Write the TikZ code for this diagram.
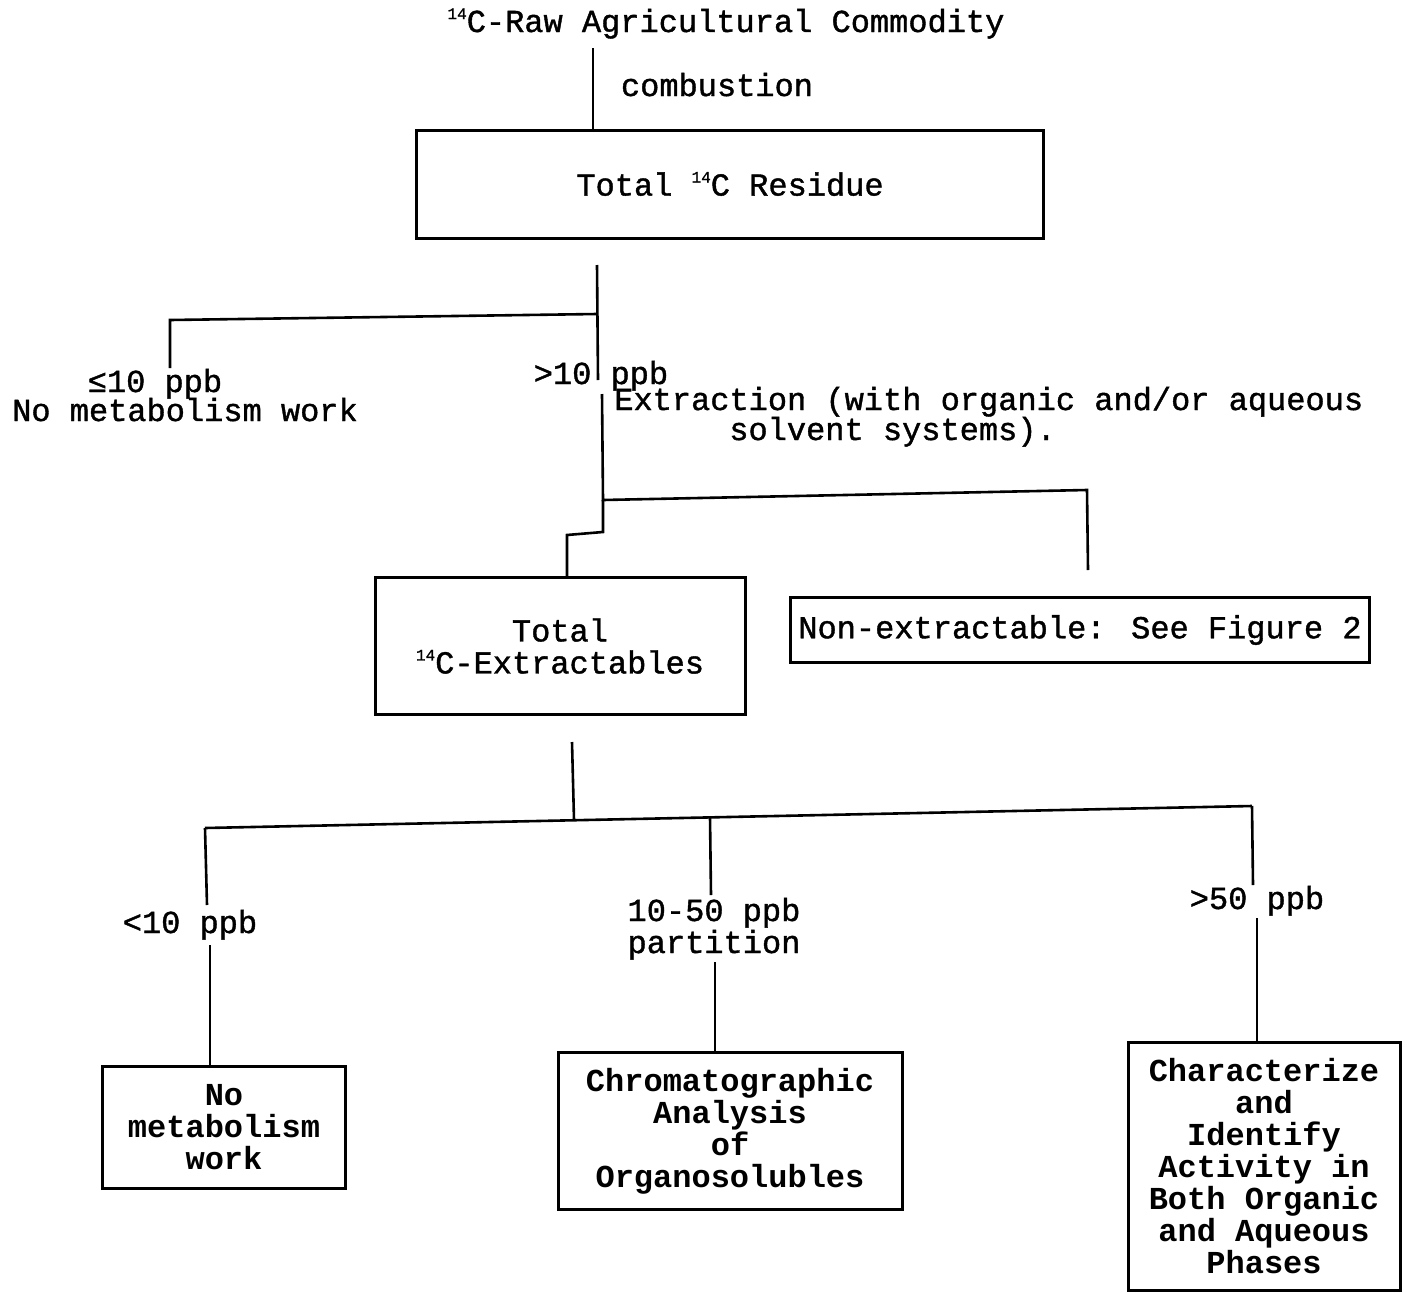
\documentclass[tikz,border=0pt]{standalone}
\usepackage{fontspec}
\setmainfont{Liberation Mono}
\newfontfamily\medmono[FakeBold=1.2]{Liberation Mono}
\newcommand\isotope{\raisebox{13pt}{\fontsize{16}{16}\selectfont 14}}
\begin{document}
\begin{tikzpicture}[x=1pt,y=-1pt,line width=2.6pt,
  txt/.style={font=\medmono\fontsize{32}{32}\selectfont,inner sep=0pt,anchor=base},
  boxnode/.style={draw,line width=3pt,align=center,font=\medmono\fontsize{32}{32}\selectfont},
  boldbox/.style={boxnode,font=\bfseries\fontsize{32}{32}\selectfont}]
\useasboundingbox (0,0) rectangle (1411,1293);
\fill[white] (0,0) rectangle (1411,1293);

% texts
\node[txt] (rac) at (726,32) {\isotope C-Raw Agricultural Commodity};
\node[txt] (comb) at (717,96) {combustion};
\node[txt] (le10) at (155,392) {≤10 ppb};
\node[txt] (nomw) at (185,421) {No metabolism work};
\node[txt] (gt10) at (601,384) {>10 ppb};
\node[txt,anchor=base west] (extr1) at (613,410) {Extraction (with organic and/or aqueous};
\node[txt,anchor=base west] (extr2) at (728,440) {solvent systems).};
\node[txt] (lt10) at (190,933) {<10 ppb};
\node[txt] (mid1) at (714,921) {10-50 ppb};
\node[txt] (mid2) at (714,953) {partition};
\node[txt] (gt50) at (1257,909) {>50 ppb};

% boxes
\node[boxnode,minimum width=627pt,minimum height=108pt] (res) at (730,184) {Total \isotope C Residue};
\node[boxnode,minimum width=370pt,minimum height=137pt] (ext) at (560,646) {Total\\\isotope C-Extractables};
\node[boxnode,minimum width=579pt,minimum height=65pt] (nonx) at (1080,630) {Non-extractable: See Figure 2};
\node[boldbox,minimum width=243pt,minimum height=122pt] (nm) at (224,1127) {No\\metabolism\\work};
\node[boldbox,minimum width=344pt,minimum height=157pt] (chr) at (730,1131) {Chromatographic\\Analysis\\of\\Organosolubles};
\node[boldbox,minimum width=272pt,minimum height=248pt] (chid) at (1264,1166) {Characterize\\and\\Identify\\Activity in\\Both Organic\\and Aqueous\\Phases};

% connectors
\coordinate (a1) at (593,48);
\draw (a1) -- (a1 |- res.north);

\coordinate (b0) at (597,265);
\coordinate (b1) at (597,314);
\coordinate (bl) at (170,320);
\coordinate (bl2) at (170,368);
\coordinate (b2) at (598,380);
\draw (bl2) -- (bl) -- (b1);
\draw (b0) -- (b2);

\coordinate (c0) at (602,394);
\coordinate (c1) at (603,500);
\coordinate (cr) at (1087,490);
\coordinate (cr2) at (1088,570);
\coordinate (cs1) at (603,532);
\coordinate (cs2) at (567,535);
\draw (c0) -- (c1) -- (cr) -- (cr2);
\draw (c1) -- (cs1) -- (cs2) -- (cs2 |- ext.north);

\coordinate (d0) at (572,742);
\coordinate (d1) at (574,820);
\coordinate (dl) at (205,828);
\coordinate (dm) at (710,817);
\coordinate (dr) at (1252,806);
\draw (d0) -- (d1);
\draw (dl) -- (dr);

\coordinate (el) at (207,905);
\coordinate (el2) at (210,945);
\draw (dl) -- (el);
\draw (el2) -- (el2 |- nm.north);

\coordinate (em) at (711,895);
\coordinate (em2) at (715,962);
\draw (dm) -- (em);
\draw (em2) -- (em2 |- chr.north);

\coordinate (er) at (1253,885);
\coordinate (er2) at (1257,918);
\draw (dr) -- (er);
\draw (er2) -- (er2 |- chid.north);
\end{tikzpicture}
\end{document}
